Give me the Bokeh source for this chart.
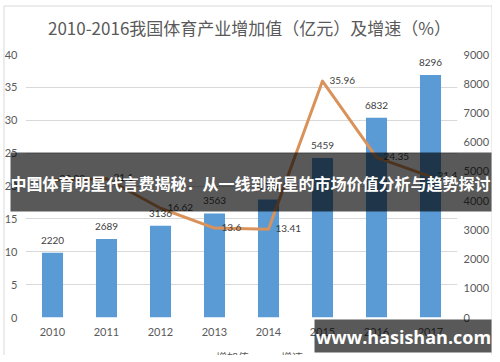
from bokeh.plotting import figure
from bokeh.models import (Range1d, LinearAxis, FixedTicker, ColumnDataSource, LabelSet,
                          Legend, LegendItem)
from bokeh.core.properties import value
from bokeh.embed import file_html
from bokeh.resources import INLINE

# ---- data ----
years = ["2010", "2011", "2012", "2013", "2014", "2015", "2016", "2017"]
added_value = [2220, 2689, 3136, 3563, 4041, 5459, 6832, 8296]      # 亿元 (right axis)
growth = [20.93, 21.1, 16.62, 13.6, 13.41, 35.96, 24.35, 21.43]     # % (left axis)
left_ticks = [0, 5, 10, 15, 20, 25, 30, 35, 40]
right_ticks = [0, 1000, 2000, 3000, 4000, 5000, 6000, 7000, 8000, 9000]

title_text = "2010-2016我国体育产业增加值（亿元）及增速（%）"
banner_text = "中国体育明星代言费揭秘：从一线到新星的市场价值分析与趋势探讨"
watermark_text = "www.hasishan.com"
bar_name = "增加值"
line_name = "增速"

BAR_C = "#5B9BD5"
LINE_C = "#D9925A"
GREY = "#595959"
NUM_FONT = "Lato"
CJK_FONT = "Noto Sans CJK SC"
W, H = 492, 355

src = ColumnDataSource(dict(
    year=years, val=added_value, g=growth,
    val_lbl=[str(v) for v in added_value],
    g_lbl=[("%g" % v) for v in growth],
))

# ---------------- main chart ----------------
p = figure(width=W, height=H, x_range=years, y_range=Range1d(0, 40),
           output_backend="svg", toolbar_location=None,
           min_border_left=25, min_border_right=34, min_border_top=54, min_border_bottom=38)
p.extra_y_ranges = {"right": Range1d(0, 9000)}
p.outline_line_color = None
p.background_fill_color = "white"
p.border_fill_color = "white"

bars = p.vbar(x="year", top="val", width=0.39, source=src, y_range_name="right",
              fill_color=BAR_C, line_color=None)
line = p.line(x="year", y="g", source=src, line_color=LINE_C, line_width=3,
              line_join="round", line_cap="round")

la = p.yaxis[0]
la.ticker = FixedTicker(ticks=left_ticks)
ra = LinearAxis(y_range_name="right", ticker=FixedTicker(ticks=right_ticks))
p.add_layout(ra, "right")
for ax in [la, ra, p.xaxis[0]]:
    ax.axis_line_color = None
    ax.major_tick_line_color = None
    ax.minor_tick_line_color = None
    ax.major_tick_out = 0
    ax.major_tick_in = 0
    ax.major_label_text_font = NUM_FONT
    ax.major_label_text_font_size = "11px"
    ax.major_label_text_color = GREY
la.major_label_standoff = 8
ra.major_label_standoff = 6
p.xaxis[0].major_label_standoff = 10

p.xgrid.grid_line_color = None
p.ygrid.grid_line_color = "#D9D9D9"
p.ygrid.ticker = FixedTicker(ticks=left_ticks)

p.add_layout(LabelSet(x="year", y="val", text="val_lbl", source=src, y_range_name="right",
                      text_align="center", text_baseline="alphabetic", y_offset=9,
                      text_font=value(NUM_FONT), text_font_size="10px", text_color="#404040"))
p.add_layout(LabelSet(x="year", y="g", text="g_lbl", source=src,
                      text_align="left", text_baseline="middle", x_offset=7, y_offset=1,
                      text_font=value(NUM_FONT), text_font_size="10px", text_color="#404040"))

# ---------------- overlay (title, legend, border, banners) ----------------
o = figure(width=W, height=H, x_range=Range1d(0, W), y_range=Range1d(H, 0),
           output_backend="svg", toolbar_location=None,
           x_axis_location=None, y_axis_location=None,
           min_border=0, min_border_left=0, min_border_right=0,
           min_border_top=0, min_border_bottom=0,
           styles={"margin-top": f"-{H}px"})
o.grid.visible = False
o.outline_line_color = None
o.background_fill_alpha = 0
o.border_fill_alpha = 0

# chart border (left, top, right edges)
o.multi_line(xs=[[3.5, 3.5], [3.5, 491.5], [491.5, 491.5]],
             ys=[[H + 5, 5.5], [5.5, 5.5], [5.5, H + 5]],
             line_color="#D9D9D9", line_width=1)

# title
o.text(x=[249], y=[27], text=[title_text], text_align="center", text_baseline="middle",
       text_font=value(CJK_FONT), text_font_size="17px", text_color=GREY)

# legend (cut by the bottom edge, as in the reference)
pb = o.vbar(x=[], top=[], width=1, fill_color=BAR_C, line_color=None)
pl = o.line(x=[], y=[], line_color=LINE_C, line_width=3)
legend = Legend(items=[LegendItem(label=bar_name, renderers=[pb]),
                       LegendItem(label=line_name, renderers=[pl])],
                location=(186, -10), orientation="horizontal",
                glyph_width=25, glyph_height=14, label_height=14, label_standoff=5,
                spacing=2, padding=0, margin=0,
                label_text_font=CJK_FONT, label_text_font_size="11px",
                label_text_color=GREY,
                background_fill_alpha=0, border_line_alpha=0)
o.add_layout(legend)

# headline banner
o.quad(left=[10], right=[491], top=[152], bottom=[211],
       fill_color="black", fill_alpha=0.65, line_color=None)
o.text(x=[250], y=[182], text=[banner_text], text_align="center", text_baseline="middle",
       text_font=value(CJK_FONT), text_font_size="16px", text_font_style="bold",
       text_color="white")

# watermark
o.quad(left=[314], right=[491], top=[319], bottom=[352],
       fill_color="black", fill_alpha=0.65, line_color=None)
o.text(x=[403], y=[336], text=[watermark_text], text_align="center", text_baseline="middle",
       text_font=value("Open Sans"), text_font_size="18px", text_font_style="bold",
       text_color="white")

open("out.html", "w").write(file_html([p, o], INLINE))
